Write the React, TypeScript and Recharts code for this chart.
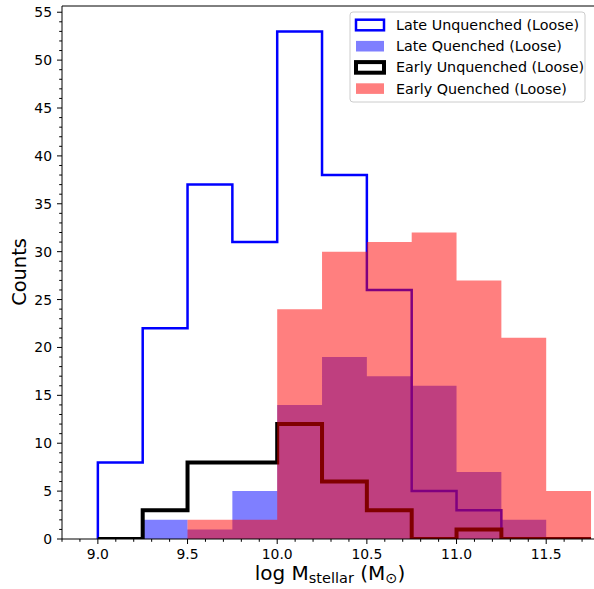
import React from "react";
import {
  ComposedChart,
  XAxis,
  YAxis,
  Line,
  Area,
  ReferenceLine,
} from "recharts";

// bin edges (log stellar mass) and counts per bin
const binEdges = [9.0, 9.25, 9.5, 9.75, 10.0, 10.25, 10.5, 10.75, 11.0, 11.25, 11.5, 11.75];
const lateUnquenched = [8, 22, 37, 31, 53, 38, 26, 5, 3, 0, 0];
const lateQuenched = [0, 2, 1, 5, 14, 19, 17, 16, 7, 2, 0];
const earlyUnquenched = [0, 3, 8, 8, 12, 6, 3, 0, 1, 0, 0];
const earlyQuenched = [0, 0, 2, 2, 24, 30, 31, 32, 27, 21, 5];

const seriesNames = [
  "Late Unquenched (Loose)",
  "Late Quenched (Loose)",
  "Early Unquenched (Loose)",
  "Early Quenched (Loose)",
];

const xMajorTicks = [9.0, 9.5, 10.0, 10.5, 11.0, 11.5];
const yMajorTicks = [0, 5, 10, 15, 20, 25, 30, 35, 40, 45, 50, 55];

const X_DOMAIN = [8.8, 11.8];
const Y_DOMAIN = [0, 55.65];
const FONT = "DejaVu Sans, Verdana, sans-serif";

// minor tick positions
const xMinor: number[] = [];
for (let i = 88; i <= 118; i++) xMinor.push(i / 10);
const yMinor: number[] = [];
for (let i = 0; i <= 55; i++) yMinor.push(i);

// one table: leading zero row, one row per bin, trailing row that closes the outlines
const n = lateUnquenched.length;
const table = [
  { x: binEdges[0], lu: 0, lq: 0, eu: 0, eq: 0 },
  ...binEdges.slice(0, n).map((x, i) => ({
    x,
    lu: lateUnquenched[i],
    lq: lateQuenched[i],
    eu: earlyUnquenched[i],
    eq: earlyQuenched[i],
  })),
  { x: binEdges[n], lu: 0, lq: lateQuenched[n - 1], eu: 0, eq: earlyQuenched[n - 1] },
];

const XTick = (props: any) => {
  const { x, y, payload } = props;
  const v = payload.value;
  const major = xMajorTicks.some((t) => Math.abs(t - v) < 1e-6);
  return (
    <g>
      <line x1={x} x2={x} y1={y} y2={y + (major ? 5 : 2.8)} stroke="#000" strokeWidth={1} />
      {major && (
        <text x={x} y={y + 19.5} textAnchor="middle" fontSize={13.9} fontFamily={FONT} fill="#000">
          {v.toFixed(1)}
        </text>
      )}
    </g>
  );
};

const YTick = (props: any) => {
  const { x, y, payload } = props;
  const v = payload.value;
  const major = yMajorTicks.includes(v);
  return (
    <g>
      <line x1={x - (major ? 5 : 2.8)} x2={x} y1={y} y2={y} stroke="#000" strokeWidth={1} />
      {major && (
        <text x={x - 10} y={y + 5} textAnchor="end" fontSize={13.9} fontFamily={FONT} fill="#000">
          {v}
        </text>
      )}
    </g>
  );
};

const XLabel = () => (
  <text x={330} y={580} textAnchor="middle" fontSize={20} fontFamily={FONT} fill="#000">
    <tspan>log M</tspan>
    <tspan dy={3} fontSize={14.5}>stellar</tspan>
    <tspan dy={-3}> (M</tspan>
    <tspan dy={3} fontSize={14.5}>⊙</tspan>
    <tspan dy={-3}>)</tspan>
  </text>
);

const YLabel = () => (
  <text
    x={25.5}
    y={272}
    textAnchor="middle"
    fontSize={19.4}
    fontFamily={FONT}
    fill="#000"
    transform="rotate(-90, 25.5, 272)"
  >
    Counts
  </text>
);

const legendItems = [
  { name: seriesNames[0], fill: "#fff", stroke: "#0000ff", sw: 2.5 },
  { name: seriesNames[1], fill: "rgba(0,0,255,0.5)", stroke: "none", sw: 0 },
  { name: seriesNames[2], fill: "#fff", stroke: "#000", sw: 4 },
  { name: seriesNames[3], fill: "rgba(255,0,0,0.5)", stroke: "none", sw: 0 },
];

const LegendBox = () => (
  <svg
    width={240}
    height={96}
    style={{ position: "absolute", left: 348, top: 10, overflow: "visible" }}
  >
    <rect x={2} y={2} width={235} height={90} rx={3} fill="rgba(255,255,255,0.8)" stroke="#cccccc" />
    {legendItems.map((it, i) => {
      const cy = 15 + i * 21.2;
      return (
        <g key={it.name}>
          <rect x={8} y={cy - 5.3} width={28} height={10.6} fill={it.fill} stroke={it.stroke} strokeWidth={it.sw} />
          <text x={48} y={cy + 5} fontSize={14.3} fontFamily={FONT} fill="#000">
            {it.name}
          </text>
        </g>
      );
    })}
  </svg>
);

export default function App() {
  return (
    <div
      style={{
        position: "absolute",
        left: 0,
        top: 0,
        width: 594,
        height: 589,
        overflow: "hidden",
        background: "#fff",
      }}
    >
      <ComposedChart
        width={600}
        height={589}
        data={table}
        margin={{ top: 6, right: 0, bottom: 0, left: 0 }}
      >
        <XAxis
          dataKey="x"
          type="number"
          domain={X_DOMAIN}
          allowDataOverflow
          ticks={xMinor}
          interval={0}
          tickSize={0}
          tickMargin={0}
          tick={<XTick />}
          tickLine={false}
          axisLine={{ stroke: "#000", strokeWidth: 1 }}
          height={50}
          label={<XLabel />}
        />
        <YAxis
          type="number"
          domain={Y_DOMAIN}
          allowDataOverflow
          ticks={yMinor}
          interval={0}
          tickSize={0}
          tickMargin={0}
          tick={<YTick />}
          tickLine={false}
          axisLine={{ stroke: "#000", strokeWidth: 1 }}
          width={62}
          label={<YLabel />}
        />
        <Line
          dataKey="lu"
          type="stepAfter"
          stroke="#0000ff"
          strokeWidth={2.5}
          strokeLinejoin="miter"
          dot={false}
          activeDot={false}
          isAnimationActive={false}
          zIndex={100}
        />
        <Area
          dataKey="lq"
          type="stepAfter"
          stroke="none"
          fill="#0000ff"
          fillOpacity={0.5}
          dot={false}
          activeDot={false}
          isAnimationActive={false}
          zIndex={101}
        />
        <Line
          dataKey="eu"
          type="stepAfter"
          stroke="#000000"
          strokeWidth={4}
          strokeLinejoin="miter"
          dot={false}
          activeDot={false}
          isAnimationActive={false}
          zIndex={102}
        />
        <Area
          dataKey="eq"
          type="stepAfter"
          stroke="none"
          fill="#ff0000"
          fillOpacity={0.5}
          dot={false}
          activeDot={false}
          isAnimationActive={false}
          zIndex={103}
        />
        <ReferenceLine y={Y_DOMAIN[1]} stroke="#000" strokeWidth={1} ifOverflow="visible" />
      </ComposedChart>
      <LegendBox />
    </div>
  );
}
